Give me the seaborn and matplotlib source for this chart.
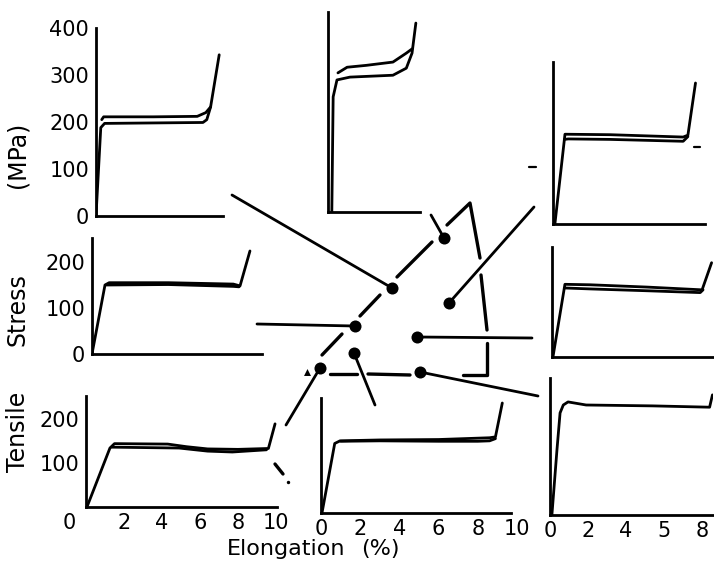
import numpy as np
import pandas as pd
import matplotlib
matplotlib.use("Agg")
import matplotlib.pyplot as plt
import seaborn as sns
from matplotlib.transforms import ScaledTranslation
from matplotlib.ticker import MultipleLocator, FixedLocator

sns.set_theme(style="white")
plt.rcParams["font.family"] = ["DejaVu Sans"]

# ---------------- stress-strain curves (elongation %, stress MPa) -------------
tl_up_x = [0.3, 0.4, 3.0, 5.3, 5.75, 6.0]
tl_up_y = [205, 211, 211, 212, 220, 232]
tl_lo_x = [0.0, 0.25, 0.45, 3.0, 5.6, 5.8, 6.0, 6.45]
tl_lo_y = [0, 188, 197, 198, 199, 205, 232, 343]

tc_up_x = [0.52, 1.0, 2.0, 3.4, 4.1, 4.4]
tc_up_y = [296, 308, 312, 319, 338, 347]
tc_lo_x = [0.2, 0.27, 0.47, 1.15, 3.4, 4.1, 4.4, 4.6]
tc_lo_y = [0, 245, 281, 287, 291, 306, 338, 402]

tr_up_x = [0.1, 0.63, 3.0, 6.85, 7.1, 7.5]
tr_up_y = [0, 191, 190, 185, 189, 300]
tr_lo_x = [0.6, 0.8, 3.0, 6.85, 7.1]
tr_lo_y = [180, 181, 180, 176, 186]

ml_up_x = [0.0, 0.68, 0.9, 4.0, 7.4, 7.75, 8.27]
ml_up_y = [0, 150, 155, 155, 152, 148, 224]
ml_lo_x = [0.75, 4.0, 7.4, 7.7]
ml_lo_y = [150, 151, 147, 146]

mr_up_x = [0.05, 0.68, 2.0, 5.0, 7.9, 8.4]
mr_up_y = [0, 158, 157, 152, 146, 205]
mr_lo_x = [0.7, 2.0, 5.0, 7.8, 7.95]
mr_lo_y = [150, 148, 144, 140, 146]

bl_up_x = [0.05, 1.26, 1.5, 4.3, 5.3, 6.4, 8.0, 9.6, 9.95]
bl_up_y = [0, 134, 144, 143, 137, 132, 131, 133, 189]
bl_lo_x = [1.35, 4.9, 6.4, 7.7, 9.5]
bl_lo_y = [136, 134, 127, 125, 130]

bc_up_x = [0.05, 0.7, 0.97, 3.0, 6.0, 8.6, 8.9, 9.25]
bc_up_y = [0, 158, 164, 166, 167, 171, 173, 250]
bc_lo_x = [1.0, 3.0, 6.0, 8.0, 8.6, 8.9]
bc_lo_y = [163, 164, 163, 163, 164, 169]

br_x = [0.1, 0.37, 0.53, 0.7, 0.95, 1.9, 5.4, 8.4, 8.55]
br_y = [0, 150, 232, 250, 257, 250, 248, 245, 273]

# tick labels
stress_ticks_400 = [0, 100, 200, 300, 400]
stress_ticks_200 = [0, 100, 200]
bl_stress_labels = ["", "100", "200"]
elong_ticks_10 = [0, 2, 4, 6, 8, 10]
br_ticks = [0, 2, 4, 6, 8]
br_tick_labels = ["0", "2", "4", "5", "8"]

# ---------------- central schematic (diagram coordinates) ---------------------
dot_x = [444, 392, 449, 355, 417, 354, 320, 420]
dot_y = [238, 288, 303, 326, 337, 353, 368, 372]
lead_x = [431, 232, 534, 257, 532, 375, 286, 538]
lead_y = [215, 195, 207, 324, 338, 405, 425, 396]
bound_seg = [0, 0, 1, 1, 2, 2, 3, 3, 3, 4, 4, 5, 5, 5, 6, 6, 7, 7, 8, 8]
bound_x = [322, 342, 360, 380, 397, 432, 447, 470, 480, 481, 487, 487, 487, 463,
           330, 357, 368, 410, 275, 283]
bound_y = [355, 334, 316, 295, 277, 242, 225, 203, 258, 275, 330, 343, 375, 375,
           374, 374, 374, 375, 464, 474]
mark_seg = [0, 0, 1, 1]
mark_x = [529, 536, 694, 700]
mark_y = [167, 167, 147, 147]
tri_x, tri_y = [307], [372]
small_x, small_y = [288], [482]

W, H = 714, 568
fig = plt.figure(figsize=(W / 100, H / 100), dpi=100)

LW = 2.0


def panel(left, base, sx, sy, xmax, ymax, xspine=None):
    ax = fig.add_axes([left / W, 1 - base / H, xmax * sx / W, ymax * sy / H])
    ax.set_xlim(0, xmax)
    ax.set_ylim(0, ymax)
    ax.set_facecolor("none")
    for s in ["top", "right"]:
        ax.spines[s].set_visible(False)
    for s in ["left", "bottom"]:
        ax.spines[s].set_linewidth(2.0)
        ax.spines[s].set_color("black")
    if xspine is not None:
        ax.spines["bottom"].set_bounds(0, xspine)
    ax.tick_params(which="both", direction="in", length=3, width=1.4,
                   color="black", labelsize=15, pad=5, labelcolor="black")
    ax.xaxis.set_major_locator(MultipleLocator(1))
    ax.yaxis.set_major_locator(MultipleLocator(50))
    ax.set_xticklabels([])
    ax.set_yticklabels([])
    ax.grid(False)
    return ax


def curve(ax, x, y):
    sns.lineplot(x=x, y=y, ax=ax, color="black", lw=LW, sort=False,
                 estimator=None)


# Top-left
ax = panel(96, 216, 19.1, 0.47, 6.65, 400)
curve(ax, tl_lo_x, tl_lo_y); curve(ax, tl_up_x, tl_up_y)
ax.yaxis.set_major_locator(FixedLocator(stress_ticks_400))
ax.yaxis.set_minor_locator(MultipleLocator(50))
ax.set_yticklabels([str(v) for v in stress_ticks_400])

# Top-center
ax = panel(328, 212, 19.1, 0.47, 4.82, 425)
curve(ax, tc_lo_x, tc_lo_y); curve(ax, tc_up_x, tc_up_y)

# Top-right
ax = panel(553, 224, 19.0, 0.47, 8.0, 345)
curve(ax, tr_up_x, tr_up_y); curve(ax, tr_lo_x, tr_lo_y)

# Middle-left
ax = panel(92, 354, 19.1, 0.46, 8.9, 252)
curve(ax, ml_up_x, ml_up_y); curve(ax, ml_lo_x, ml_lo_y)
ax.yaxis.set_major_locator(FixedLocator(stress_ticks_200))
ax.yaxis.set_minor_locator(MultipleLocator(50))
ax.set_yticklabels([str(v) for v in stress_ticks_200])

# Middle-right
ax = panel(552, 357, 19.0, 0.46, 8.5, 239)
curve(ax, mr_up_x, mr_up_y); curve(ax, mr_lo_x, mr_lo_y)

# Bottom-left
ax = panel(86, 507, 19.0, 0.44, 10.3, 252, xspine=10.05)
curve(ax, bl_up_x, bl_up_y); curve(ax, bl_lo_x, bl_lo_y)
ax.yaxis.set_major_locator(FixedLocator(stress_ticks_200))
ax.yaxis.set_minor_locator(MultipleLocator(50))
ax.set_yticklabels(bl_stress_labels)
ax.xaxis.set_major_locator(FixedLocator(elong_ticks_10))
ax.set_xticklabels([str(v) for v in elong_ticks_10])
ax.tick_params(axis="x", pad=4)
off = ScaledTranslation(-0.17, 0, fig.dpi_scale_trans)
lbl0 = ax.get_xticklabels()[0]
lbl0.set_transform(lbl0.get_transform() + off)

# Bottom-center
ax = panel(321, 513, 19.6, 0.44, 10.05, 261, xspine=9.7)
curve(ax, bc_up_x, bc_up_y); curve(ax, bc_lo_x, bc_lo_y)
ax.xaxis.set_major_locator(FixedLocator(elong_ticks_10))
ax.set_xticklabels([str(v) for v in elong_ticks_10])
ax.tick_params(axis="x", pad=4)

# Bottom-right
ax = panel(550, 515, 19.0, 0.44, 8.6, 311)
curve(ax, br_x, br_y)
ax.xaxis.set_major_locator(FixedLocator(br_ticks))
ax.set_xticklabels(br_tick_labels)
ax.tick_params(axis="x", pad=4)

# ---------------- overlay schematic ----------------
ov = fig.add_axes([0, 0, 1, 1])
ov.set_xlim(0, W)
ov.set_ylim(H, 0)
ov.set_facecolor("none")
ov.axis("off")

lead_df = pd.DataFrame({
    "x": dot_x + lead_x,
    "y": dot_y + lead_y,
    "seg": list(range(len(dot_x))) * 2,
})
sns.lineplot(data=lead_df, x="x", y="y", units="seg", estimator=None,
             sort=False, color="black", lw=2.0, ax=ov)
bound_df = pd.DataFrame({"x": bound_x, "y": bound_y, "seg": bound_seg})
sns.lineplot(data=bound_df, x="x", y="y", units="seg", estimator=None,
             sort=False, color="black", lw=2.4, ax=ov)
mark_df = pd.DataFrame({"x": mark_x, "y": mark_y, "seg": mark_seg})
sns.lineplot(data=mark_df, x="x", y="y", units="seg", estimator=None,
             sort=False, color="black", lw=1.6, ax=ov)
sns.scatterplot(x=dot_x, y=dot_y, ax=ov, color="black", s=75,
                edgecolor="black", linewidth=0)
sns.scatterplot(x=tri_x, y=tri_y, ax=ov, color="black", marker="^", s=25,
                linewidth=0)
sns.scatterplot(x=small_x, y=small_y, ax=ov, color="black", s=6, linewidth=0)
ov.set_xlabel(""); ov.set_ylabel("")

# axis titles
for word, yc in [("Tensile", 432), ("Stress", 310), ("(MPa)", 155)]:
    fig.text(18 / W, 1 - yc / H, word, rotation=90, ha="center", va="center",
             fontsize=17, color="black")
fig.text(286 / W, 1 - 549 / H, "Elongation", ha="center", va="center",
         fontsize=16, color="black")
fig.text(380 / W, 1 - 549 / H, "(%)", ha="center", va="center",
         fontsize=16, color="black")

fig.savefig("out.png", dpi=100)
